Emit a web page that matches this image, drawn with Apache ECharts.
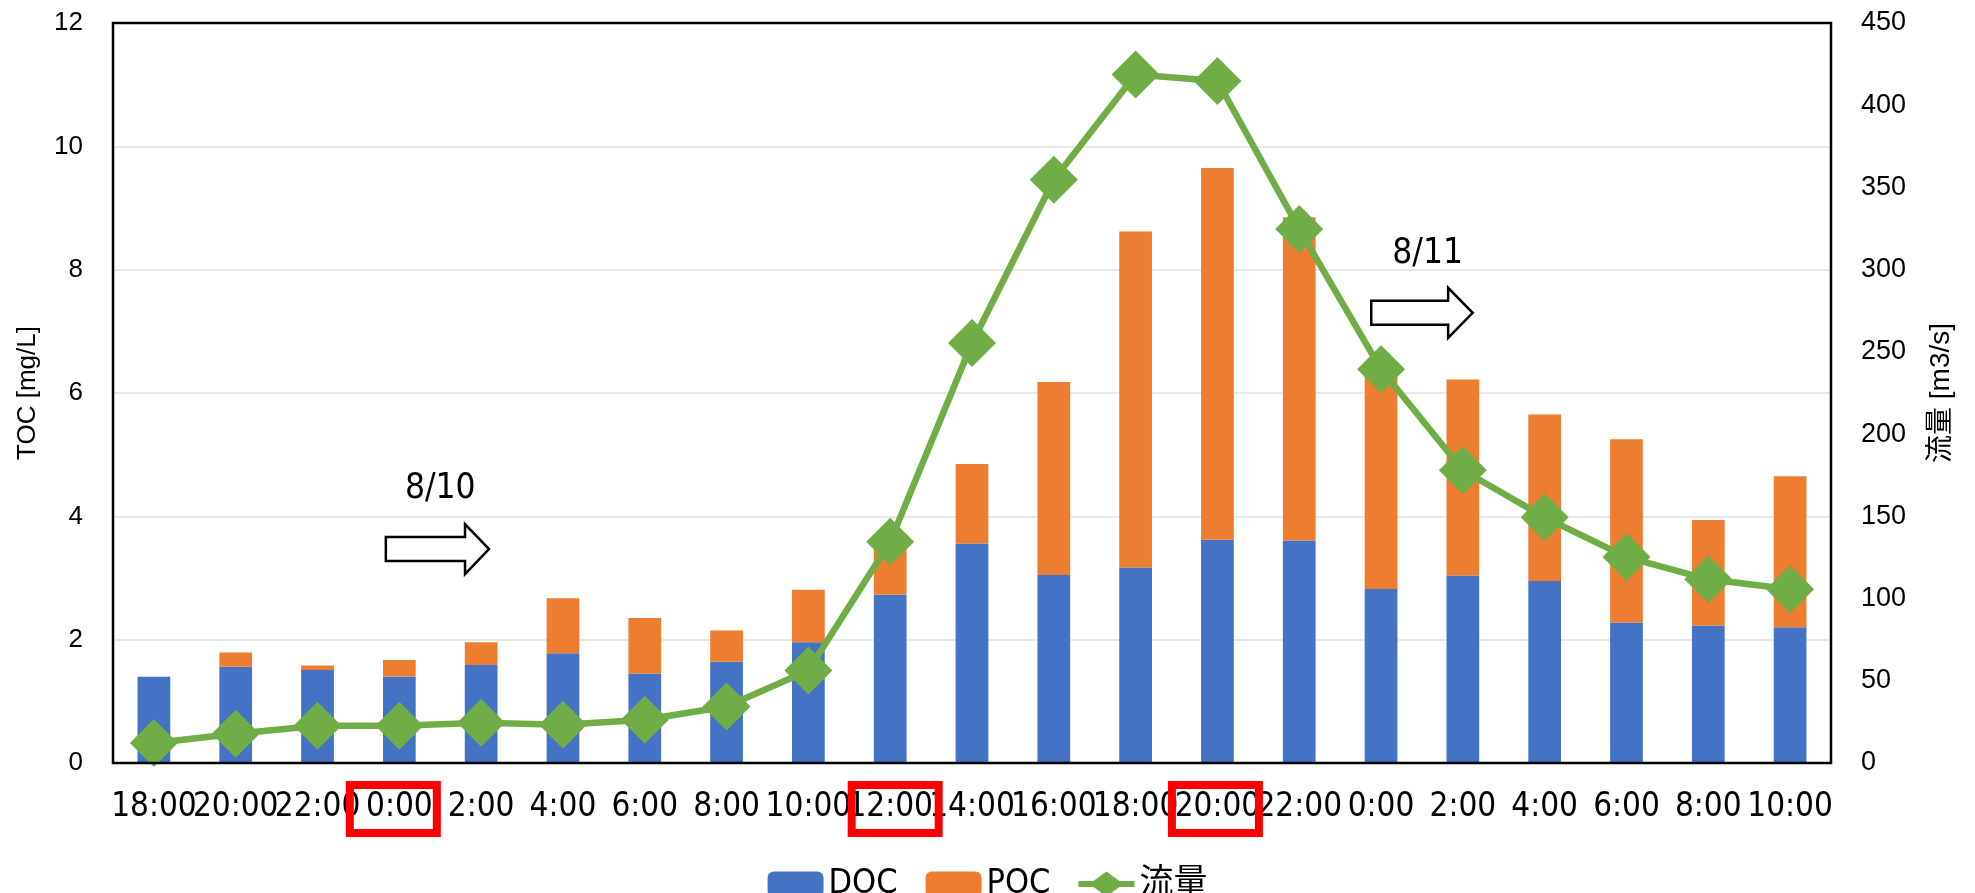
<!DOCTYPE html>
<html>
<head>
<meta charset="utf-8">
<title>TOC・流量</title>
<script src="https://cdn.jsdelivr.net/npm/echarts@6/dist/echarts.min.js"></script>
<style>
  html, body { margin: 0; padding: 0; background: #ffffff; }
  #chart { width: 1975px; height: 893px; }
</style>
</head>
<body>
<div id="chart"></div>
<script>
// Sampling times (8/9 18:00 through 8/11 10:00, every 2 hours)
const categories = ['18:00','20:00','22:00','0:00','2:00','4:00','6:00','8:00','10:00','12:00','14:00','16:00','18:00','20:00','22:00','0:00','2:00','4:00','6:00','8:00','10:00'];

// Dissolved / particulate organic carbon [mg/L]
const docValues = [1.40,1.56,1.51,1.40,1.59,1.78,1.45,1.64,1.96,2.73,3.56,3.05,3.17,3.62,3.61,2.82,3.04,2.95,2.28,2.23,2.20];
const pocValues = [0.00,0.23,0.07,0.27,0.37,0.89,0.90,0.51,0.85,0.87,1.29,3.13,5.45,6.03,5.24,3.58,3.18,2.70,2.97,1.71,2.45];

// Discharge [m3/s]
const flowValues = [12.1,17.8,22.7,22.7,24.5,23.3,26.3,34.4,56.3,134.6,255.4,354.7,418.7,414.7,324.7,239.4,178.0,149.4,125.2,111.7,105.6];

// Axis ranges
const tocAxis = { min: 0, max: 12, interval: 2 };
const flowAxis = { min: 0, max: 450, interval: 50 };

// Tick labels boxed in red (category index, small horizontal nudge in px)
const highlighted = [
  { idx: 3, dx: -6 },
  { idx: 9, dx: 5 },
  { idx: 13, dx: -2 }
];

// Day markers: text, arrow placement (in category bands) and height (TOC units)
const dayMarkers = [
  { text: '8/10', textU: 4.00, textV: 4.44, left: 3.335, headBase: 4.303, tip: 4.596, v: 3.47 },
  { text: '8/11', textU: 16.07, textV: 8.25, left: 15.38, headBase: 16.32, tip: 16.62, v: 7.30 }
];

const NARROW = "'Liberation Sans Narrow', 'DejaVu Sans Condensed', 'Liberation Sans', 'Noto Sans CJK JP', sans-serif";
const SANS = "'Liberation Sans', Arial, 'Noto Sans CJK JP', sans-serif";
const GREEN = '#70AD47';

// Legend glyph for the discharge series: thick line with a diamond in the middle
const LINE_DIAMOND_ICON = 'path://M0,9.5 L15,9.5 L28,0 L41,9.5 L56,9.5 L56,15.5 L41,15.5 L28,25 L15,15.5 L0,15.5 Z';

const chart = echarts.init(document.getElementById('chart'), null, { renderer: 'canvas' });

const option = {
  animation: false,
  backgroundColor: '#ffffff',
  grid: { left: 113, right: 144, top: 23, bottom: 130 },
  legend: {
    left: 'center',
    top: 862,
    itemWidth: 56,
    itemHeight: 25,
    itemGap: 28,
    textStyle: { fontFamily: NARROW, fontSize: 34, color: '#000000' },
    data: [
      { name: 'DOC' },
      { name: 'POC' },
      { name: '流量', icon: LINE_DIAMOND_ICON, itemStyle: { color: GREEN } }
    ]
  },
  xAxis: {
    type: 'category',
    data: categories,
    axisLine: { show: false },
    axisTick: { show: false },
    axisLabel: {
      interval: 0,
      margin: 28,
      fontFamily: NARROW,
      fontSize: 33,
      color: '#000000'
    },
    splitLine: { show: false }
  },
  yAxis: [
    {
      type: 'value',
      min: tocAxis.min, max: tocAxis.max, interval: tocAxis.interval,
      name: 'TOC [mg/L]',
      nameLocation: 'middle',
      nameRotate: 90,
      nameGap: 72,
      nameTextStyle: { fontFamily: SANS, fontSize: 26, color: '#000000' },
      axisLine: { show: false },
      axisTick: { show: false },
      axisLabel: { fontFamily: SANS, fontSize: 26, color: '#000000', margin: 30 },
      splitLine: { show: true, lineStyle: { color: '#e8e8e8', width: 2 } }
    },
    {
      type: 'value',
      position: 'right',
      min: flowAxis.min, max: flowAxis.max, interval: flowAxis.interval,
      name: '流量 [m3/s]',
      nameLocation: 'middle',
      nameRotate: 90,
      nameGap: 96,
      nameTextStyle: { fontFamily: SANS, fontSize: 28, color: '#000000' },
      axisLine: { show: false },
      axisTick: { show: false },
      axisLabel: { fontFamily: SANS, fontSize: 27, color: '#000000', margin: 30 },
      splitLine: { show: false }
    }
  ],
  series: [
    {
      name: 'DOC',
      type: 'bar',
      stack: 'toc',
      barWidth: '40%',
      itemStyle: { color: '#4472C4' },
      data: docValues,
      z: 2
    },
    {
      name: 'POC',
      type: 'bar',
      stack: 'toc',
      barWidth: '40%',
      itemStyle: { color: '#ED7D31' },
      data: pocValues,
      z: 2
    },
    {
      name: '流量',
      type: 'line',
      yAxisIndex: 1,
      symbol: 'diamond',
      symbolSize: 48,
      showAllSymbol: true,
      itemStyle: { color: GREEN },
      lineStyle: { color: GREEN, width: 6.5 },
      data: flowValues,
      z: 5
    }
  ]
};

chart.setOption(option);

// Plot frame, day arrows and boxed tick labels, anchored to the axes
function drawAnnotations() {
  const x0 = chart.convertToPixel({ xAxisIndex: 0 }, 0);
  const x1 = chart.convertToPixel({ xAxisIndex: 0 }, 1);
  const step = x1 - x0;
  const bandLeft = x0 - step / 2;
  const bx = u => bandLeft + u * step;
  const vy = v => chart.convertToPixel({ yAxisIndex: 0 }, v);
  const axisY = vy(tocAxis.min);
  const topY = vy(tocAxis.max);

  const elements = [];

  elements.push({
    type: 'rect',
    z: 15,
    silent: true,
    shape: { x: bx(0), y: topY, width: bx(categories.length) - bx(0), height: axisY - topY },
    style: { fill: 'none', stroke: '#000000', lineWidth: 2.5 }
  });

  dayMarkers.forEach(m => {
    const yc = vy(m.v);
    const xl = bx(m.left), xb = bx(m.headBase), xt = bx(m.tip);
    elements.push({
      type: 'polygon',
      z: 20,
      shape: {
        points: [
          [xl, yc - 12], [xb, yc - 12], [xb, yc - 25], [xt, yc],
          [xb, yc + 25], [xb, yc + 12], [xl, yc + 12]
        ]
      },
      style: { fill: '#ffffff', stroke: '#000000', lineWidth: 2.5, lineJoin: 'miter' }
    });
    elements.push({
      type: 'text',
      z: 20,
      x: bx(m.textU),
      y: vy(m.textV),
      style: {
        text: m.text,
        fontFamily: NARROW,
        fontSize: 35,
        fill: '#000000',
        align: 'center',
        verticalAlign: 'middle'
      }
    });
  });

  highlighted.forEach(h => {
    const cx = chart.convertToPixel({ xAxisIndex: 0 }, h.idx) + h.dx;
    const cy = axisY + 46;
    elements.push({
      type: 'rect',
      z: 30,
      shape: { x: cx - 43.5, y: cy - 24, width: 87, height: 48 },
      style: { fill: 'none', stroke: '#FF0000', lineWidth: 8 }
    });
  });

  chart.setOption({ graphic: { elements: elements } });
}

drawAnnotations();
</script>
</body>
</html>
